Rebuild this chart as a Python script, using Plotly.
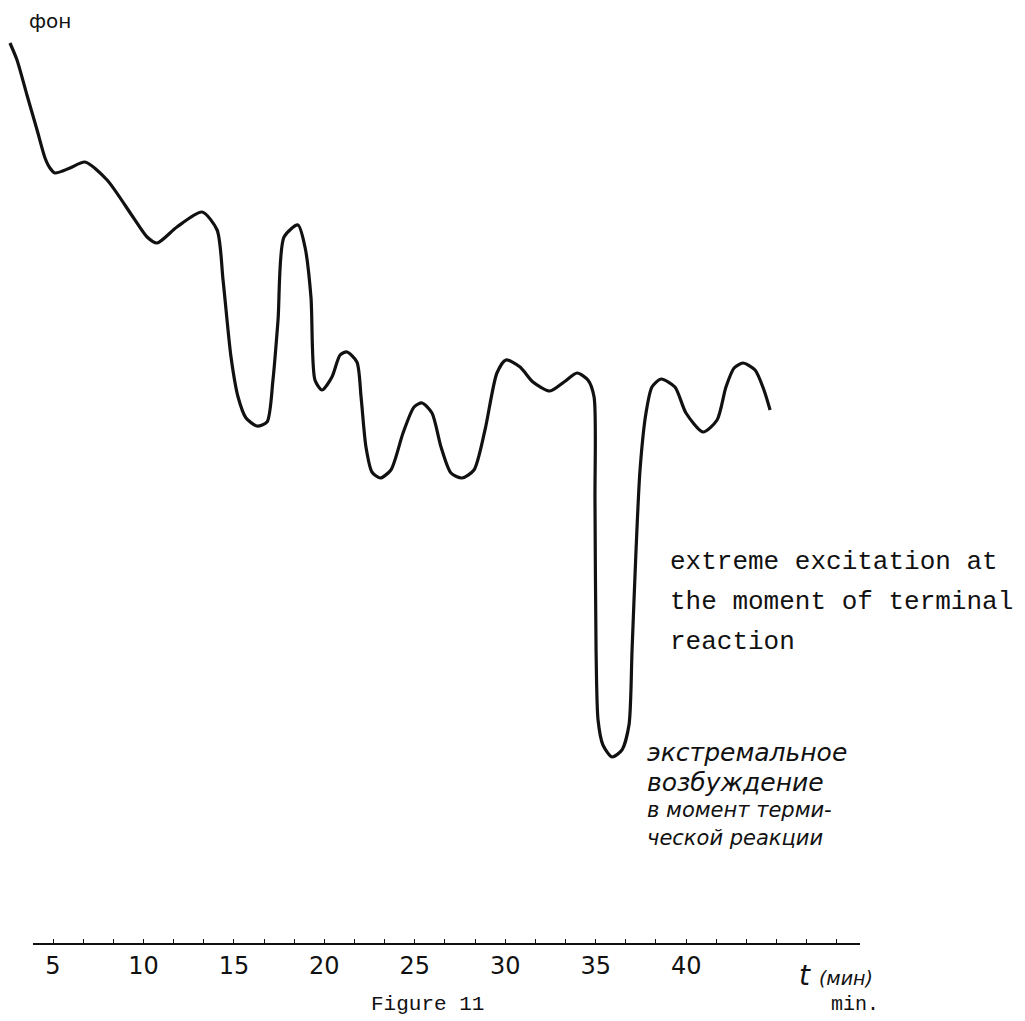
import plotly.graph_objects as go

# ---------------- data ----------------
# time in minutes (x) and recorded level in arbitrary units (y)
time_min = [2.62, 3.01, 3.56, 4.12, 4.56, 4.83, 5.11, 5.94, 6.77, 7.99, 9.42,
            10.20, 10.75, 11.85, 13.24, 14.07, 14.40, 14.84, 15.23, 15.67, 16.28,
            16.83, 17.16, 17.44, 17.77, 18.54, 18.93, 19.26, 19.48, 19.87, 20.42,
            20.87, 21.25, 21.80, 22.03, 22.30, 22.63, 23.08, 23.68, 24.35, 24.96,
            25.40, 25.95, 26.45, 27.00, 27.61, 28.27, 28.88, 29.54, 30.04, 30.82,
            31.53, 32.47, 33.25, 33.97, 34.57, 34.91, 34.96, 35.02, 35.13, 35.40,
            35.90, 36.45, 36.84, 37.01, 37.23, 37.45, 37.78, 38.11, 38.61, 39.38,
            39.99, 40.93, 41.71, 42.20, 42.65, 43.14, 43.81, 44.30, 44.64]
level = [90.0, 88.3, 84.8, 81.3, 78.5, 77.5, 77.0, 77.5, 78.1, 76.3, 72.6,
         70.6, 70.0, 71.6, 73.1, 71.3, 66.3, 58.6, 54.6, 52.5, 51.7,
         52.1, 56.3, 62.3, 70.6, 71.8, 69.6, 64.6, 56.3, 55.3, 56.6,
         58.8, 59.1, 58.1, 54.6, 49.6, 47.1, 46.5, 47.3, 51.0, 53.6,
         54.0, 53.0, 49.6, 47.0, 46.5, 47.3, 51.3, 57.0, 58.3, 57.6,
         56.1, 55.2, 56.1, 57.0, 56.3, 54.6, 44.3, 29.3, 22.3, 19.8,
         18.6, 19.3, 21.8, 29.3, 39.3, 47.3, 53.0, 55.6, 56.4, 55.6,
         53.0, 51.1, 52.3, 55.6, 57.5, 58.0, 57.3, 55.3, 53.3]

tick_positions = [5, 10, 15, 20, 25, 30, 35, 40]
tick_labels = ["5", "10", "15", "20", "25", "30", "35", "40"]
minor_step = 5 / 3          # small hand-drawn marks between labels
axis_end_min = 49.6

background_label = "фон"
unit_label = "t <span style='font-size:19px'>(мин)</span>"
unit_label_en = "min."
caption = "Figure 11"
note_en = ["extreme excitation at", "the moment of terminal", "reaction"]
note_ru = ["экстремальное", "возбуждение", "в момент терми-", "ческой реакции"]

# ---------------- layout geometry (pixels) ----------------
W, H = 1025, 1021
px_per_min = 18.09
x_px_at_5 = 53.0
axis_y_px = 943.0


def t_at(px):
    return 5 + (px - x_px_at_5) / px_per_min


# full tick list (labelled + small marks)
all_ticks, all_text = [], []
k = 0
while True:
    v = 5 + k * minor_step
    if v > axis_end_min - 0.5:
        break
    all_ticks.append(round(v, 3))
    lab = ""
    for p, tl in zip(tick_positions, tick_labels):
        if abs(p - v) < 1e-6:
            lab = tl
    all_text.append(lab)
    k += 1

fig = go.Figure()
fig.add_trace(go.Scatter(
    x=time_min, y=level, mode="lines",
    line=dict(color="#111111", width=3.2, shape="spline", smoothing=0.7),
    xaxis="x2", yaxis="y", hoverinfo="skip", showlegend=False,
))
# invisible helper so that the time-axis subplot is created and drawn
fig.add_trace(go.Scatter(
    x=tick_positions, y=[0] * len(tick_positions), mode="markers",
    marker=dict(opacity=0, size=1), xaxis="x", yaxis="y",
    hoverinfo="skip", showlegend=False,
))

hand = "DejaVu Sans, Liberation Sans, sans-serif"
mono = "Courier New, Liberation Mono, monospace"

fig.update_layout(
    width=W, height=H,
    margin=dict(l=0, r=0, t=0, b=0),
    paper_bgcolor="white", plot_bgcolor="rgba(0,0,0,0)",
    xaxis=dict(
        domain=[33 / W, 860 / W],
        range=[t_at(33), t_at(860)],
        anchor="y",
        showline=True, linecolor="#111111", linewidth=1.8,
        ticks="inside", ticklen=4, tickwidth=1.3, tickcolor="#111111",
        tickmode="array", tickvals=all_ticks, ticktext=all_text,
        tickfont=dict(family=hand, size=24, color="#111111"),
        showgrid=False, zeroline=False, fixedrange=True,
        layer="above traces",
    ),
    xaxis2=dict(
        domain=[0, 1], range=[t_at(0), t_at(W)], anchor="y",
        visible=False, fixedrange=True,
    ),
    yaxis=dict(
        domain=[(H - axis_y_px) / H, 1], range=[0, axis_y_px / 10],
        anchor="x", visible=False, fixedrange=True,
    ),
)


def ann(text, x_px, y_px, size, family, xanchor="left", color="#111111", italic=False):
    if italic:
        text = "<i>" + text + "</i>"
    fig.add_annotation(
        text=text, xref="paper", yref="paper",
        x=x_px / W, y=1 - y_px / H, xanchor=xanchor, yanchor="middle",
        showarrow=False, font=dict(family=family, size=size, color=color),
    )


ann(background_label, 27, 21, 20, hand)
ann(unit_label, 797, 975, 28, hand, italic=True)
ann(unit_label_en, 855, 1004, 20, mono, xanchor="center")
ann(caption, 427, 1004, 21, mono, xanchor="center")

for i, line in enumerate(note_en):
    ann(line, 668, 562 + 40 * i, 26, mono)

ru_rows = [752, 782, 810, 838]
ru_sizes = [25, 25, 21, 21]
for line, yy, sz in zip(note_ru, ru_rows, ru_sizes):
    ann(line, 645, yy, sz, hand, italic=True)

fig.write_html("out.html", config={"displayModeBar": False},
               post_script="document.body.style.margin='0';")
